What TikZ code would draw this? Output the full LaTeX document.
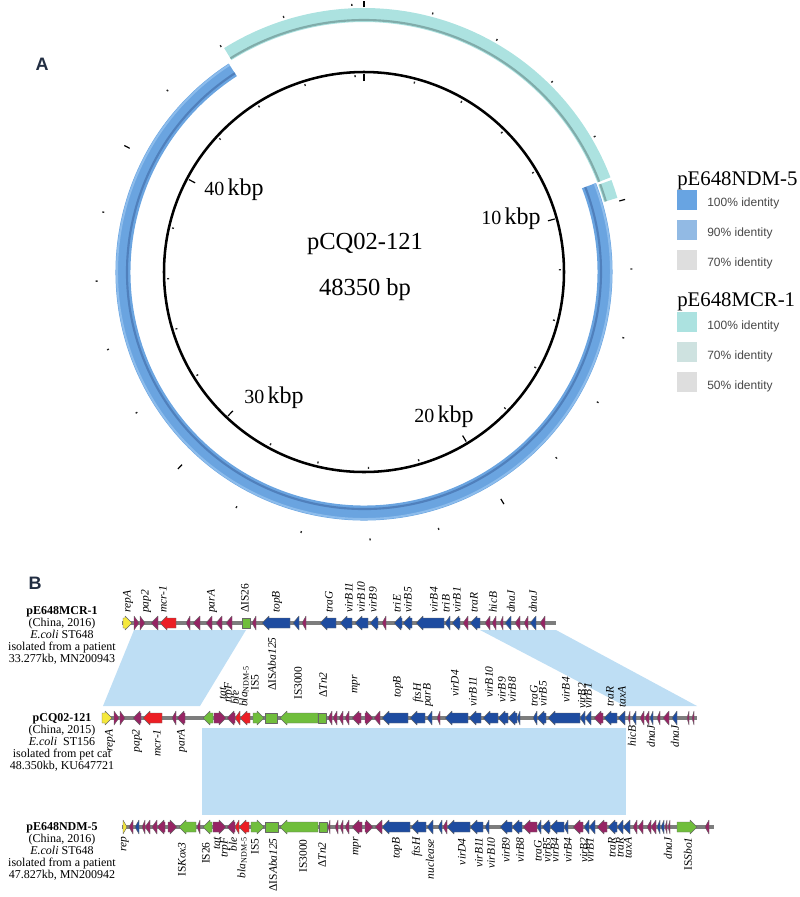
\documentclass[tikz,border=0pt]{standalone}
\usepackage{fontspec}
\setmainfont{Liberation Serif}
\setsansfont{Liberation Sans}
\definecolor{ringblue}{RGB}{106,164,224}
\definecolor{ringbluedk}{RGB}{80,128,188}
\definecolor{ringbluelt}{RGB}{140,188,236}
\definecolor{ringcyan}{RGB}{172,226,224}
\definecolor{ringcyandk}{RGB}{128,172,170}
\definecolor{legndma}{RGB}{104,164,226}
\definecolor{legndmb}{RGB}{146,186,228}
\definecolor{leggray}{RGB}{222,222,222}
\definecolor{legmcra}{RGB}{172,226,224}
\definecolor{legmcrb}{RGB}{206,226,224}
\definecolor{navy}{RGB}{34,46,66}
\definecolor{bandc}{RGB}{190,222,244}
\definecolor{gyellow}{RGB}{245,232,60}
\definecolor{gmag}{RGB}{150,36,100}
\definecolor{gred}{RGB}{236,30,36}
\definecolor{ggreen}{RGB}{112,190,60}
\definecolor{gblue}{RGB}{30,76,160}
\definecolor{bbonec}{RGB}{125,125,125}
\newcounter{nl}
\newcommand\gR[4]{\pgfmathsetmacro\ghl{min(7,#3-#2)}\pgfmathsetmacro\gxb{#3-\ghl}%
 \filldraw[gene,fill=#4] (#2,#1-5)--(\gxb,#1-5)--(\gxb,#1-7)--(#3,#1)--(\gxb,#1+7)--(\gxb,#1+5)--(#2,#1+5)--cycle;}
\newcommand\gL[4]{\pgfmathsetmacro\ghl{min(7,#3-#2)}\pgfmathsetmacro\gxb{#2+\ghl}%
 \filldraw[gene,fill=#4] (#3,#1-5)--(\gxb,#1-5)--(\gxb,#1-7)--(#2,#1)--(\gxb,#1+7)--(\gxb,#1+5)--(#3,#1+5)--cycle;}
\newcommand\gB[4]{\filldraw[gene,fill=#4] (#2,#1-5) rectangle (#3,#1+5);}
\newcommand\bbl[3]{\draw[bbone] (#2,#1)--(#3,#1);}
\newcommand\la[3]{\stepcounter{nl}\node[glab,anchor=west] (la\arabic{nl}) at (#1,#2) {#3};}
\newcommand\lb[3]{\stepcounter{nl}\node[glab,anchor=east] (lb\arabic{nl}) at (#1,#2) {#3};}
\newcommand\up[1]{{\upshape #1}}
\begin{document}
\begin{tikzpicture}[x=0.75pt,y=-0.75pt,
 gene/.style={draw=black!60,line width=0.3pt,line join=round},
 bbone/.style={draw=bbonec,line width=3pt},
 glab/.style={rotate=90,inner sep=0pt,font=\fontsize{8.6}{9}\selectfont\itshape},
 tickmaj/.style={line width=0.9pt,black},
 tickmin/.style={line width=1pt,black!85},
 legsq/.style={minimum size=15pt,inner sep=0pt},
 legtxt/.style={font=\sffamily\fontsize{9}{10}\selectfont,text=black!72,anchor=base west,inner sep=0pt},
 legttl/.style={font=\fontsize{15.6}{17}\selectfont,anchor=base west,inner sep=0pt},
 btxt/.style={align=center,font=\fontsize{9}{9}\selectfont,inner sep=0pt},
 panel/.style={font=\sffamily\bfseries\fontsize{13.5}{15}\selectfont,text=navy,inner sep=0pt}]
\useasboundingbox (0,0) rectangle (800,897);
% ---------------- Panel A ----------------
\node[panel] (pA) at (42,64) {A};
\begin{scope}[shift={(364,272)},yscale=-1]
 \draw[line width=11.25pt,ringblue] (123:241) arc[start angle=123,end angle=381,radius=241];
 \draw[line width=1.5pt,ringbluelt] (123:247) arc[start angle=123,end angle=381,radius=247];
 \draw[line width=1.6pt,ringbluedk] (123:237) arc[start angle=123,end angle=381,radius=237];
 \draw[line width=10.5pt,ringcyan] (21:257) arc[start angle=21,end angle=122,radius=257];
 \draw[line width=10.5pt,ringcyan] (16.3:257) arc[start angle=16.3,end angle=20.4,radius=257];
 \draw[line width=1.6pt,ringcyandk] (21:252) arc[start angle=21,end angle=122,radius=252];
 \draw[line width=1.6pt,ringcyandk] (16.3:252) arc[start angle=16.3,end angle=20.4,radius=252];
 \draw[line width=1.9pt] (0,0) circle[radius=200];
 \foreach \k in {0,...,24}{
  \pgfmathsetmacro\ang{90-\k*14.8914}
  \pgfmathtruncatemacro\ismaj{mod(\k,5)==0 ? 1 : 0}
  \ifnum\ismaj=1
   \draw[tickmaj] (\ang:191) -- (\ang:198);
   \draw[tickmaj] (\ang:265) -- (\ang:271);
  \else
   \draw[tickmin] (\ang:195) -- (\ang:197);
   \draw[tickmin] (\ang:266.5) -- (\ang:268.5);
  \fi}
\end{scope}
\node[font=\fontsize{18.4}{20}\selectfont] (pname) at (365,244) {pCQ02-121};
\node[font=\fontsize{18.4}{20}\selectfont] (plen) at (365,290) {48350 bp};
\node (k10) at (511,219) {{\fontsize{15}{16}\selectfont 10} {\fontsize{18}{19}\selectfont kbp}};
\node (k20) at (444,417) {{\fontsize{15}{16}\selectfont 20} {\fontsize{18}{19}\selectfont kbp}};
\node (k30) at (274,398) {{\fontsize{15}{16}\selectfont 30} {\fontsize{18}{19}\selectfont kbp}};
\node (k40) at (234,190) {{\fontsize{15}{16}\selectfont 40} {\fontsize{18}{19}\selectfont kbp}};
% legend
\node[legttl] (lt1) at (677,185) {pE648NDM-5};
\node[legsq,fill=legndma] (s1) at (687,199.5) {};
\node[legsq,fill=legndmb] (s2) at (687,229.5) {};
\node[legsq,fill=leggray] (s3) at (687,259.5) {};
\node[legtxt] (t1) at (707,206) {100\% identity};
\node[legtxt] (t2) at (707,236) {90\% identity};
\node[legtxt] (t3) at (707,266) {70\% identity};
\node[legttl] (lt2) at (677,306) {pE648MCR-1};
\node[legsq,fill=legmcra] (s4) at (687,322) {};
\node[legsq,fill=legmcrb] (s5) at (687,352) {};
\node[legsq,fill=leggray] (s6) at (687,382) {};
\node[legtxt] (t4) at (707,329) {100\% identity};
\node[legtxt] (t5) at (707,359) {70\% identity};
\node[legtxt] (t6) at (707,389) {50\% identity};
% ---------------- Panel B ----------------
\node[panel] (pB) at (35,583) {B};
\fill[bandc] (134,630) -- (246,630) -- (200,706) -- (103,706) -- cycle;
\fill[bandc] (480,630) -- (556,630) -- (697,706) -- (625,706) -- cycle;
\fill[bandc] (202,728) rectangle (626,815);
\node[btxt] (info1) at (62,635) {\textbf{pE648MCR-1}\\(China, 2016)\\\textit{E.coli} ST648\\isolated from a patient\\33.277kb, MN200943};
\node[btxt] (info2) at (62,742) {\textbf{pCQ02-121}\\(China, 2015)\\\textit{E.coli}\ \ ST156\\isolated from pet cat\\48.350kb, KU647721};
\node[btxt] (info3) at (62,851) {\textbf{pE648NDM-5}\\(China, 2016)\\\textit{E.coli} ST648\\isolated from a patient\\47.827kb, MN200942};
% row 1
\bbl{623}{122}{556}
\gR{623}{123}{132}{gyellow}
\gR{623}{134}{139}{gmag}\gR{623}{140}{145}{gmag}
\gL{623}{151}{158}{gmag}\gL{623}{160}{176}{gred}
\gL{623}{186}{190}{gmag}\gL{623}{193}{200}{gmag}
\gL{623}{206}{212}{gmag}\gL{623}{216}{222}{gmag}\gL{623}{226}{232}{gmag}
\gB{623}{242}{250}{ggreen}\gL{623}{252}{256}{gmag}
\gL{623}{262}{290}{gblue}\gL{623}{293}{299}{gblue}\gL{623}{302}{306}{gmag}
\gL{623}{320}{336}{gblue}\gL{623}{340}{352}{gblue}\gL{623}{355}{368}{gblue}\gL{623}{370}{378}{gblue}
\gL{623}{382}{386}{gmag}\gL{623}{394}{402}{gblue}\gL{623}{403}{412}{gblue}
\gL{623}{416}{444}{gblue}\gL{623}{445}{450}{gblue}\gL{623}{452}{460}{gblue}
\gL{623}{463}{468}{gmag}\gL{623}{470}{480}{gblue}\gL{623}{485}{490}{gmag}\gL{623}{492}{496}{gmag}
\gL{623}{500}{503}{gmag}\gL{623}{505}{511}{gblue}\gL{623}{515}{520}{gmag}\gL{623}{524}{528}{gmag}
\gL{623}{530}{536}{gblue}\gL{623}{540}{545}{gmag}
\la{128}{613}{repA}\la{146}{613}{pap2}\la{163}{613}{mcr-1}\la{212}{613}{parA}
\la{245}{613}{\up{ΔIS26}}\la{277}{613}{topB}\la{329}{613}{traG}\la{349}{613}{virB11}
\la{361}{613}{virB10}\la{373}{613}{virB9}\la{397}{613}{triE}\la{408}{613}{virB5}
\la{434}{613}{virB4}\la{446}{613}{triB}\la{457}{613}{virB1}\la{474}{613}{traR}
\la{493}{613}{hicB}\la{511}{613}{dnaJ}\la{533}{613}{dnaJ}
% row 2
\bbl{718}{102}{697}
\gR{718}{102}{112}{gyellow}\gR{718}{114}{119}{gmag}\gR{718}{120}{125}{gmag}
\gL{718}{133}{141}{gmag}\gL{718}{143}{162}{gred}
\gL{718}{172}{176}{gmag}\gL{718}{177}{185}{gmag}
\gL{718}{203}{213}{ggreen}\gR{718}{214}{226}{gmag}\gL{718}{227}{235}{gmag}
\gL{718}{235}{240}{gred}\gL{718}{240}{250}{gred}
\gR{718}{253}{264}{ggreen}\gB{718}{265}{277}{ggreen}\gL{718}{280}{318}{ggreen}\gB{718}{318}{326}{ggreen}
\gL{718}{328}{332}{gmag}\gL{718}{333}{337}{gmag}\gL{718}{339}{343}{gmag}\gL{718}{345}{349}{gmag}
\gL{718}{352}{361}{gmag}\gR{718}{365}{373}{gmag}\gL{718}{374}{380}{gmag}
\gL{718}{382}{408}{gblue}\gL{718}{410}{425}{gblue}\gL{718}{427}{432}{gblue}\gL{718}{437}{440}{gmag}
\gL{718}{445}{468}{gblue}\gL{718}{469}{481}{gblue}\gL{718}{483}{498}{gblue}\gL{718}{498}{508}{gblue}
\gL{718}{508}{517}{gblue}\gL{718}{517}{520}{gblue}
\gL{718}{533}{537}{gblue}\gL{718}{537}{546}{gblue}\gL{718}{548}{580}{gblue}
\gL{718}{580}{585}{gblue}\gL{718}{585}{591}{gblue}\gL{718}{594}{603}{gmag}
\gL{718}{604}{617}{gblue}\gL{718}{618}{625}{gblue}
\gL{718}{628}{630}{gmag}\gL{718}{632}{636}{gblue}\gL{718}{640}{644}{gmag}\gL{718}{645}{649}{gmag}
\gL{718}{650}{653}{gblue}\gL{718}{657}{660}{gmag}\gL{718}{663}{669}{gmag}\gL{718}{672}{677}{gblue}
\gL{718}{687}{689}{gmag}\gL{718}{692}{694}{gmag}
\la{223}{700}{tat}\la{229}{703}{trpF}\la{235}{705}{ble}\la{244}{707}{bla\textsubscript{\upshape NDM-5}}
\la{255}{691}{\up{IS5}}\la{272}{691}{\up{ΔIS}Aba125}\la{298}{700}{\up{IS3000}}\la{323}{698}{\up{Δ}Tn2}
\la{356}{694}{mpr}\la{398}{698}{topB}\la{418}{703}{ftsH}\la{428}{707}{parB}
\la{455}{697}{virD4}\la{473}{707}{virB11}\la{489}{698}{virB10}\la{502}{703}{virB9}\la{512}{703}{virB8}
\la{534}{707}{traG}\la{543}{707}{virB5}\la{566}{703}{virB4}\la{582}{709}{virB2}\la{588}{709}{virB1}
\la{610}{707}{traR}\la{622}{708}{taxA}
\lb{110}{729}{repA}\lb{137}{729}{pap2}\lb{157}{729}{mcr-1}\lb{182}{729}{parA}
\lb{632}{725}{hicB}\lb{651}{725}{dnaJ}\lb{675}{725}{dnaJ}
% row 3
\bbl{827}{122}{714}
\gR{827}{123}{127}{gyellow}\gL{827}{129}{133}{gmag}\gL{827}{135}{139}{gblue}
\gL{827}{142}{145}{gmag}\gL{827}{145}{150}{gmag}\gL{827}{152}{157}{gmag}\gL{827}{157}{165}{gmag}
\gR{827}{168}{177}{gmag}\gL{827}{179}{196}{ggreen}\gL{827}{197}{200}{gmag}\gL{827}{203}{212}{ggreen}
\gR{827}{213}{226}{gmag}\gL{827}{227}{235}{gmag}\gL{827}{235}{239}{gred}\gL{827}{239}{249}{gred}
\gR{827}{251}{264}{ggreen}\gB{827}{265}{278}{ggreen}\gL{827}{280}{318}{ggreen}\gB{827}{319}{327}{ggreen}
\gL{827}{328}{330}{gmag}\gL{827}{335}{338}{gmag}\gL{827}{340}{343}{gmag}\gL{827}{345}{349}{gmag}
\gL{827}{352}{362}{gmag}\gR{827}{365}{373}{gmag}\gL{827}{375}{382}{gmag}
\gL{827}{382}{410}{gblue}\gL{827}{411}{426}{gblue}\gL{827}{427}{433}{gblue}
\gL{827}{438}{442}{gblue}\gL{827}{443}{447}{gmag}\gL{827}{447}{470}{gblue}\gL{827}{470}{483}{gblue}
\gL{827}{485}{489}{gblue}\gL{827}{500}{512}{gblue}\gL{827}{512}{522}{gblue}\gL{827}{523}{537}{gmag}
\gL{827}{537}{541}{gblue}\gL{827}{542}{550}{gblue}\gL{827}{550}{564}{gblue}\gL{827}{564}{568}{gblue}
\gL{827}{573}{583}{gmag}\gL{827}{584}{589}{gblue}\gL{827}{589}{595}{gblue}\gL{827}{597}{607}{gmag}
\gL{827}{608}{617}{gblue}\gL{827}{617}{623}{gblue}\gL{827}{623}{630}{gblue}
\gL{827}{633}{637}{gmag}\gL{827}{638}{643}{gmag}\gL{827}{647}{651}{gmag}\gL{827}{651}{656}{gmag}
\gL{827}{657}{660}{gblue}\gL{827}{661}{664}{gblue}\gL{827}{665}{667}{gmag}\gL{827}{668}{670}{gmag}
\gR{827}{677}{697}{ggreen}\gL{827}{705}{709}{gmag}
\lb{125}{836}{rep}\lb{182}{842}{\up{IS}Kox3}\lb{206}{842}{\up{IS26}}\lb{217}{837}{tat}\lb{225}{837}{trpF}
\lb{233}{837}{ble}\lb{242}{837}{bla\textsubscript{\upshape NDM-5}}\lb{255}{838}{\up{IS5}}
\lb{273}{838}{\up{ΔIS}Aba125}\lb{303}{839}{\up{IS3000}}\lb{322}{842}{\up{Δ}Tn2}\lb{357}{837}{mpr}
\lb{397}{837}{topB}\lb{417}{837}{ftsH}\lb{430}{839}{nuclease}\lb{462}{838}{virD4}\lb{479}{837}{virB11}
\lb{491}{837}{virB10}\lb{506}{837}{virB9}\lb{520}{837}{virB8}\lb{538}{840}{traG}\lb{547}{837}{virB5}
\lb{555}{837}{virB4}\lb{568}{837}{virB4}\lb{584}{837}{virB2}\lb{590}{837}{virB1}\lb{612}{837}{traR}
\lb{620}{837}{traR}\lb{628}{837}{taxA}\lb{668}{837}{dnaJ}\lb{688}{837}{\up{IS}Sbo1}
\end{tikzpicture}
\end{document}
